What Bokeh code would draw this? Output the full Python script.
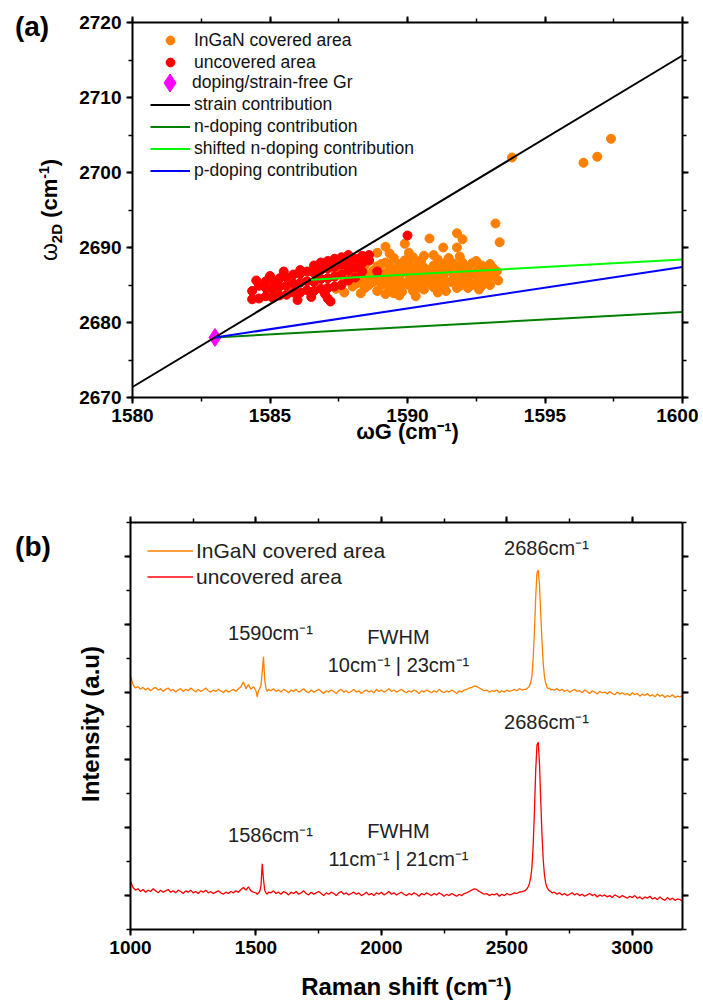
import math
from bokeh.plotting import figure
from bokeh.models import (LinearAxis, SingleIntervalTicker, Label, Legend, LegendItem,
                          CustomJSTickFormatter, Range1d, Div)
from bokeh.layouts import column, row
from bokeh.embed import file_html
from bokeh.resources import INLINE

# ---------------- Panel (a) data ----------------
ingan_x = [1587.4, 1587.4, 1587.7, 1587.7, 1587.7, 1588.0, 1588.0, 1588.0, 1588.3, 1588.3, 1588.3,
           1588.6, 1588.6, 1588.6, 1588.9, 1588.9, 1588.9, 1588.9,
           1589.2, 1589.2, 1589.2, 1589.2, 1589.2, 1589.5, 1589.5, 1589.5, 1589.5,
           1589.7, 1589.7, 1589.7, 1589.7, 1589.9, 1589.9, 1589.9, 1589.9,
           1590.2, 1590.2, 1590.2, 1590.2, 1590.4, 1590.4, 1590.4,
           1590.6, 1590.6, 1590.6, 1590.6, 1590.8, 1590.8, 1590.8,
           1591.1, 1591.1, 1591.1, 1591.1, 1591.3, 1591.3, 1591.3, 1591.3,
           1591.5, 1591.5, 1591.5, 1591.8, 1591.8, 1591.8, 1591.8, 1591.8,
           1592.0, 1592.0, 1592.0, 1592.0, 1592.2, 1592.2, 1592.2,
           1592.5, 1592.5, 1592.5, 1592.7, 1592.7, 1592.7, 1592.9, 1592.9,
           1593.1, 1593.1, 1593.3, 1593.2, 1593.35,
           1588.15, 1588.15, 1588.45, 1588.45, 1588.45, 1588.75, 1588.75,
           1589.05, 1589.05, 1589.05, 1589.35, 1589.35, 1589.35, 1589.35,
           1589.6, 1589.6, 1589.8, 1589.8, 1590.05, 1590.05, 1590.05, 1590.05,
           1590.3, 1590.3, 1590.3, 1590.5, 1590.5, 1590.7, 1590.7,
           1590.95, 1590.95, 1590.95, 1590.95, 1591.2, 1591.2, 1591.4, 1591.4,
           1591.65, 1591.65, 1591.65, 1591.9, 1591.9, 1592.1, 1592.1,
           1592.35, 1592.35, 1592.35, 1592.6, 1592.6, 1592.6, 1592.8, 1592.8,
           1593.0, 1593.0, 1593.0, 1593.25,
           1593.8, 1596.4, 1596.9, 1597.4]
ingan_y = [2684.5, 2686.7, 2684.0, 2685.6, 2687.2, 2684.8, 2686.2, 2688.0, 2683.9, 2685.4, 2687.0,
           2685.0, 2686.4, 2688.2, 2684.2, 2685.8, 2687.5, 2689.3,
           2683.8, 2685.2, 2686.6, 2688.0, 2690.1, 2683.9, 2685.6, 2687.0, 2688.6,
           2683.6, 2684.8, 2686.2, 2687.8, 2685.3, 2686.8, 2688.3, 2690.5,
           2684.2, 2685.8, 2687.2, 2688.7, 2685.0, 2686.5, 2687.9,
           2684.4, 2685.9, 2687.3, 2688.9, 2685.3, 2686.7, 2691.2,
           2684.0, 2685.6, 2687.0, 2688.4, 2684.8, 2686.3, 2687.7, 2690.0,
           2685.4, 2686.9, 2688.6, 2684.6, 2686.0, 2687.5, 2690.0, 2691.9,
           2685.2, 2686.6, 2688.0, 2691.1, 2684.6, 2686.0, 2687.4,
           2685.3, 2686.7, 2688.2, 2684.9, 2686.2, 2687.6, 2685.6, 2687.0,
           2686.2, 2687.3, 2685.6, 2693.2, 2690.7,
           2685.2, 2686.9, 2684.6, 2686.1, 2687.6, 2685.4, 2686.9,
           2685.0, 2686.3, 2687.8, 2684.6, 2686.0, 2687.6, 2689.2,
           2685.3, 2686.6, 2684.1, 2687.2, 2685.0, 2686.4, 2687.8, 2689.3,
           2683.5, 2685.5, 2686.9, 2684.6, 2688.3, 2685.5, 2687.0,
           2684.7, 2686.2, 2687.6, 2689.0, 2685.2, 2686.6, 2684.2, 2688.0,
           2685.4, 2686.5, 2687.9, 2684.9, 2688.8, 2685.7, 2687.2,
           2685.0, 2686.4, 2687.9, 2684.4, 2685.9, 2687.1, 2685.3, 2686.7,
           2685.0, 2686.5, 2687.8, 2686.8,
           2702.0, 2701.3, 2702.1, 2704.5]

uncov_x = [1584.35, 1584.35, 1584.6, 1584.6, 1584.85, 1584.85, 1584.85,
           1585.1, 1585.1, 1585.1, 1585.35, 1585.35, 1585.35, 1585.6, 1585.6, 1585.6,
           1585.85, 1585.85, 1585.85, 1586.1, 1586.1, 1586.1, 1586.1,
           1586.35, 1586.35, 1586.35, 1586.6, 1586.6, 1586.6, 1586.6,
           1586.85, 1586.85, 1586.85, 1586.85, 1587.1, 1587.1, 1587.1, 1587.1, 1587.1,
           1587.35, 1587.35, 1587.35, 1587.35, 1587.6, 1587.6, 1587.6, 1587.6,
           1587.85, 1587.85, 1587.85, 1587.85, 1588.1, 1588.1, 1588.1,
           1588.35, 1588.35, 1588.35, 1588.6, 1588.6,
           1588.9, 1590.0, 1587.2, 1584.5, 1585.0, 1585.5, 1586.0, 1586.5, 1587.0]
uncov_y = [2683.1, 2684.2, 2683.2, 2684.9, 2683.5, 2684.6, 2685.5,
           2683.3, 2684.4, 2685.5, 2683.6, 2684.8, 2685.9, 2683.7, 2684.9, 2686.0,
           2684.0, 2685.2, 2686.4, 2684.0, 2685.3, 2686.5, 2687.0,
           2684.3, 2685.5, 2686.8, 2684.2, 2685.4, 2686.6, 2687.6,
           2684.5, 2685.8, 2687.0, 2688.0, 2683.2, 2684.6, 2685.9, 2687.2, 2688.2,
           2684.8, 2686.1, 2687.4, 2688.5, 2685.0, 2686.4, 2687.7, 2688.7,
           2685.6, 2686.9, 2688.1, 2689.0, 2686.0, 2687.3, 2688.5,
           2686.8, 2687.9, 2688.9, 2688.3, 2689.0,
           2686.8, 2691.6, 2682.8, 2685.6, 2686.2, 2686.8, 2683.0, 2683.4, 2683.8]

free_x = [1583.0]
free_y = [2678.0]

strain_x = [1580.0, 1600.0]
strain_y = [2671.4, 2715.6]
ndop_x = [1583.0, 1600.0]
ndop_y = [2678.0, 2681.4]
shifted_x = [1586.5, 1600.0]
shifted_y = [2685.7, 2688.4]
pdop_x = [1583.0, 1600.0]
pdop_y = [2678.0, 2687.4]

# ---------------- Panel (b) data ----------------
raman_shift = (list(range(1000, 1501, 10)) + list(range(1505, 1551, 5)) +
               list(range(1560, 2571, 10)) + list(range(2575, 2681, 5)) +
               list(range(2690, 3201, 10)))

ingan_int = [
    3.24, 3.11, 3.06, 3.08, 3.04, 3.07, 3.03, 3.06, 3.02, 3.05,
    3.07, 3.03, 3.05, 3.01, 3.04, 3.06, 3.02, 3.04, 3.00, 3.03,
    3.05, 3.01, 3.04, 3.02, 3.06, 3.03, 3.00, 3.04, 3.01, 3.03,
    3.06, 3.02, 3.00, 3.03, 3.01, 3.04, 3.02, 2.99, 3.03, 3.00,
    3.02, 3.04, 3.01, 3.05, 3.08, 3.15, 3.05, 3.11, 3.04, 3.08, 3.02,
    2.93, 3.02, 3.05, 3.10, 3.30, 3.52, 3.18, 3.05, 3.01, 3.04,
    3.02, 3.05, 3.01, 3.03, 3.00, 3.04, 3.02, 2.99, 3.03, 3.01,
    3.04, 3.00, 3.02, 3.05, 3.01, 2.99, 3.03, 3.00, 3.02, 3.04,
    3.01, 2.98, 3.02, 3.00, 3.03, 3.01, 2.98, 3.02, 3.04, 3.00,
    3.02, 2.99, 3.01, 3.04, 3.00, 3.02, 2.98, 3.01, 3.03, 3.00,
    3.02, 2.99, 3.04, 3.01, 3.03, 3.00, 3.02, 3.05, 3.01, 3.03,
    3.00, 3.02, 3.04, 3.01, 2.99, 3.02, 3.00, 3.03, 3.01, 2.98,
    3.02, 3.00, 3.03, 3.01, 2.99, 3.02, 3.00, 3.04, 3.01, 2.99,
    3.02, 3.00, 3.03, 3.01, 2.98, 3.02, 3.00, 3.03, 3.04, 3.06,
    3.07, 3.09, 3.08, 3.06, 3.04, 3.02, 3.03, 3.00, 3.02, 3.01,
    3.03, 2.99, 3.02, 3.00, 3.03, 3.01, 3.02, 3.04, 3.02, 3.05,
    3.03, 3.04,
    3.04, 3.05, 3.07, 3.09, 3.14, 3.24, 3.50, 3.90, 4.40, 4.76, 4.80,
    4.58, 4.15, 3.75, 3.42, 3.22, 3.13, 3.07, 3.05, 3.06, 3.03, 3.04,
    3.03, 3.05, 3.02, 3.04, 3.01, 3.03, 3.00, 3.02, 3.04, 3.01,
    3.02, 2.99, 3.03, 3.01, 2.98, 3.02, 3.00, 2.97, 3.01, 2.99,
    3.00, 2.97, 3.01, 2.98, 2.96, 3.00, 2.97, 2.99, 2.96, 2.98,
    2.95, 2.99, 2.96, 2.98, 2.94, 2.97, 2.95, 2.98, 2.94, 2.96,
    2.93, 2.97, 2.94, 2.96, 2.92, 2.95, 2.93, 2.96, 2.92, 2.94,
    2.93, 2.95]

uncov_int = [
    0.21, 0.12, 0.08, 0.10, 0.06, 0.09, 0.05, 0.08, 0.06, 0.10,
    0.07, 0.04, 0.08, 0.05, 0.07, 0.09, 0.05, 0.07, 0.04, 0.08,
    0.06, 0.03, 0.07, 0.05, 0.08, 0.04, 0.06, 0.03, 0.07, 0.05,
    0.08, 0.04, 0.06, 0.03, 0.05, 0.07, 0.04, 0.02, 0.05, 0.03,
    0.06, 0.04, 0.07, 0.05, 0.09, 0.12, 0.08, 0.13, 0.07, 0.05, 0.04,
    0.02, 0.04, 0.06, 0.14, 0.47, 0.24, 0.08, 0.04, 0.02, 0.05,
    0.04, 0.07, 0.03, 0.05, 0.02, 0.06, 0.04, 0.01, 0.05, 0.03,
    0.06, 0.02, 0.04, 0.07, 0.03, 0.01, 0.05, 0.02, 0.04, 0.06,
    0.03, 0.00, 0.04, 0.02, 0.05, 0.03, 0.00, 0.04, 0.06, 0.02,
    0.04, 0.01, 0.03, 0.05, 0.02, 0.04, 0.00, 0.02, 0.05, 0.01,
    0.03, 0.00, 0.04, 0.02, 0.05, 0.01, 0.03, 0.06, 0.02, 0.04,
    0.01, 0.03, 0.05, 0.02, 0.00, 0.03, 0.01, 0.04, 0.02, -0.01,
    0.03, 0.01, 0.04, 0.02, 0.00, 0.03, 0.01, 0.04, 0.02, -0.01,
    0.02, 0.00, 0.03, 0.01, -0.01, 0.02, 0.00, 0.03, 0.04, 0.06,
    0.08, 0.10, 0.09, 0.06, 0.04, 0.02, 0.03, 0.00, 0.02, 0.01,
    0.03, -0.01, 0.02, 0.00, 0.03, 0.01, 0.02, 0.04, 0.03, 0.05,
    0.06, 0.07,
    0.08, 0.10, 0.13, 0.18, 0.26, 0.42, 0.75, 1.25, 1.85, 2.22, 2.26,
    1.95, 1.40, 0.90, 0.52, 0.30, 0.18, 0.12, 0.09, 0.07, 0.06, 0.04,
    0.05, 0.02, 0.04, 0.01, 0.03, 0.00, 0.02, 0.04, 0.01, 0.03,
    0.00, 0.02, -0.01, 0.01, 0.03, 0.00, 0.02, -0.02, 0.01, -0.01,
    0.01, -0.02, 0.00, -0.03, 0.01, -0.01, -0.03, 0.00, -0.02, -0.04,
    -0.01, -0.03, 0.00, -0.04, -0.02, -0.05, -0.02, -0.04, -0.01, -0.05,
    -0.03, -0.06, -0.02, -0.05, -0.07, -0.03, -0.06, -0.04, -0.07, -0.05,
    -0.06, -0.08]

assert len(ingan_x) == len(ingan_y) and len(uncov_x) == len(uncov_y)
assert len(raman_shift) == len(ingan_int) == len(uncov_int)

FONT = "Liberation Sans"
ORANGE = "#ff8000"
RED = "#ff0000"


def style_axis(ax, ticker, labels=True):
    ax.ticker = ticker
    ax.axis_line_width = 2
    ax.axis_line_color = "black"
    ax.major_tick_line_width = 2
    ax.major_tick_line_color = "black"
    ax.minor_tick_line_width = 1.5
    ax.minor_tick_line_color = "black"
    ax.major_tick_out = 6
    ax.major_tick_in = 0
    ax.minor_tick_out = 4
    ax.minor_tick_in = 0
    ax.major_label_text_font = FONT
    ax.major_label_text_font_style = "bold"
    ax.major_label_text_font_size = "19px"
    ax.major_label_text_color = "black"
    ax.major_label_standoff = 5
    ax.axis_label_text_font = FONT
    ax.axis_label_text_font_style = "bold"
    ax.axis_label_text_color = "black"
    if not labels:
        ax.formatter = CustomJSTickFormatter(code="return '';")


def lbl(p, x, y, text, size, bold=False, align="left", baseline="middle", angle=0.0, color="black"):
    p.add_layout(Label(x=x, y=y, x_units="data", y_units="data", text=text,
                       text_font=FONT, text_font_size=size,
                       text_font_style="bold" if bold else "normal",
                       text_align=align, text_baseline=baseline, angle=angle,
                       text_color=color))


def make_legend(items, loc, gw, gh, spacing, standoff, size):
    lg = Legend(items=items, location=loc)
    lg.border_line_color = None
    lg.background_fill_alpha = 0
    lg.label_text_font = FONT
    lg.label_text_font_size = size
    lg.label_text_color = "#111111"
    lg.glyph_width = gw
    lg.glyph_height = gh
    lg.label_height = gh
    lg.spacing = spacing
    lg.padding = 0
    lg.margin = 0
    lg.label_standoff = standoff
    return lg


def side_div(w, h, inner):
    box = ('<div style="position:relative;width:%dpx;height:%dpx;overflow:visible;'
           'font-family:Liberation Sans;color:#000;">%s</div>') % (w, h, inner)
    return Div(text=box, width=w, height=h, margin=0)


# ================= Panel (a) =================
pa = figure(frame_width=550, frame_height=375, min_border_left=64, min_border_right=16,
            min_border_top=22, min_border_bottom=69,
            x_range=Range1d(1580, 1600), y_range=Range1d(2670, 2720),
            output_backend="svg", toolbar_location=None)
pa.outline_line_color = None
pa.xgrid.visible = False
pa.ygrid.visible = False
style_axis(pa.xaxis[0], SingleIntervalTicker(interval=5, num_minor_ticks=2))
style_axis(pa.yaxis[0], SingleIntervalTicker(interval=10, num_minor_ticks=2))
pa.xaxis[0].axis_label = "ωG (cm⁻¹)"
pa.xaxis[0].axis_label_text_font_size = "22px"
pa.xaxis[0].axis_label_standoff = -6
ta = LinearAxis()
style_axis(ta, SingleIntervalTicker(interval=5, num_minor_ticks=2), labels=False)
pa.add_layout(ta, "above")
ra = LinearAxis()
style_axis(ra, SingleIntervalTicker(interval=10, num_minor_ticks=2), labels=False)
pa.add_layout(ra, "right")

r_or = pa.scatter(ingan_x, ingan_y, size=9, marker="circle", fill_color=ORANGE, line_color=ORANGE)
r_red = pa.scatter(uncov_x, uncov_y, size=9, marker="circle", fill_color=RED, line_color=RED)
r_free = pa.scatter(free_x, free_y, size=18, marker="diamond",
                    fill_color="#ff00ff", line_color="#ff00ff")
r_strain = pa.line(strain_x, strain_y, line_color="black", line_width=2)
r_ndop = pa.line(ndop_x, ndop_y, line_color="#008000", line_width=2)
r_shift = pa.line(shifted_x, shifted_y, line_color="#00ff00", line_width=2)
r_pdop = pa.line(pdop_x, pdop_y, line_color="#0000ff", line_width=2)

pa.add_layout(make_legend([
    LegendItem(label="InGaN covered area", renderers=[r_or]),
    LegendItem(label="uncovered area", renderers=[r_red]),
], (18, 324), 40, 22, 0, 4, "17.5px"))
pa.add_layout(make_legend([
    LegendItem(label="doping/strain-free Gr", renderers=[r_free]),
], (15, 292), 45, 45, 0, 0, "17.5px"))
pa.add_layout(make_legend([
    LegendItem(label="strain contribution", renderers=[r_strain]),
    LegendItem(label="n-doping contribution", renderers=[r_ndop]),
    LegendItem(label="shifted n-doping contribution", renderers=[r_shift]),
    LegendItem(label="p-doping contribution", renderers=[r_pdop]),
], (18, 216), 40, 21, 1, 4, "17.5px"))

sa = side_div(68, 466,
    '<div style="position:absolute;left:32px;top:27px;transform:translate(-50%,-50%);'
    'font-weight:bold;font-size:28px;line-height:34px;white-space:nowrap;">(a)</div>'
    '<div style="position:absolute;left:50px;top:210px;transform:translate(-50%,-50%) rotate(-90deg);'
    'font-weight:bold;font-size:22px;line-height:26px;white-space:nowrap;">'
    '<span style="font-weight:normal;font-size:23px;">ω</span>'
    '<span style="font-size:15px;position:relative;top:5px;">2D</span>'
    ' (cm<span style="font-size:14px;position:relative;top:-8px;">-1</span>)</div>')

# ================= Panel (b) =================
pb = figure(frame_width=552, frame_height=407, min_border_left=22, min_border_right=16,
            min_border_top=56, min_border_bottom=74,
            x_range=Range1d(1000, 3200), y_range=Range1d(-0.5, 5.5),
            output_backend="svg", toolbar_location=None)
pb.outline_line_color = None
pb.xgrid.visible = False
pb.ygrid.visible = False
style_axis(pb.xaxis[0], SingleIntervalTicker(interval=500, num_minor_ticks=2))
style_axis(pb.yaxis[0], SingleIntervalTicker(interval=1, num_minor_ticks=2), labels=False)
pb.xaxis[0].axis_label = "Raman shift (cm⁻¹)"
pb.xaxis[0].axis_label_text_font_size = "24px"
pb.xaxis[0].axis_label_standoff = 16
tb = LinearAxis()
style_axis(tb, SingleIntervalTicker(interval=500, num_minor_ticks=2), labels=False)
pb.add_layout(tb, "above")
rb = LinearAxis()
style_axis(rb, SingleIntervalTicker(interval=1, num_minor_ticks=2), labels=False)
pb.add_layout(rb, "right")

l_or = pb.line(raman_shift, ingan_int, line_color=ORANGE, line_width=1.3)
l_red = pb.line(raman_shift, uncov_int, line_color=RED, line_width=1.3)

leg_b = make_legend([
    LegendItem(label="InGaN covered area", renderers=[l_or]),
    LegendItem(label="uncovered area", renderers=[l_red]),
], (17, 340), 46, 25, 1, 3, "21px")
leg_b.label_text_color = "#222222"
pb.add_layout(leg_b)

ANN = "#222222"
lbl(pb, 1558, 3.878, "1590cm⁻¹", "20px", align="center", color=ANN)
lbl(pb, 2068, 3.819, "FWHM", "20px", align="center", color=ANN)
lbl(pb, 2068, 3.392, "10cm⁻¹ | 23cm⁻¹", "20px", align="center", color=ANN)
lbl(pb, 2658, 5.117, "2686cm⁻¹", "20px", align="center", color=ANN)
lbl(pb, 2658, 2.552, "2686cm⁻¹", "20px", align="center", color=ANN)
lbl(pb, 1558, 0.886, "1586cm⁻¹", "20px", align="center", color=ANN)
lbl(pb, 2068, 0.959, "FWHM", "20px", align="center", color=ANN)
lbl(pb, 2068, 0.532, "11cm⁻¹ | 21cm⁻¹", "20px", align="center", color=ANN)

sb = side_div(108, 537,
    '<div style="position:absolute;left:33px;top:81px;transform:translate(-50%,-50%);'
    'font-weight:bold;font-size:28px;line-height:34px;white-space:nowrap;">(b)</div>'
    '<div style="position:absolute;left:91px;top:258px;transform:translate(-50%,-50%) rotate(-90deg);'
    'font-weight:bold;font-size:24px;line-height:28px;white-space:nowrap;">Intensity (a.u)</div>')

layout = column(row(sa, pa), row(sb, pb))
open("out.html", "w").write(file_html(layout, INLINE))
